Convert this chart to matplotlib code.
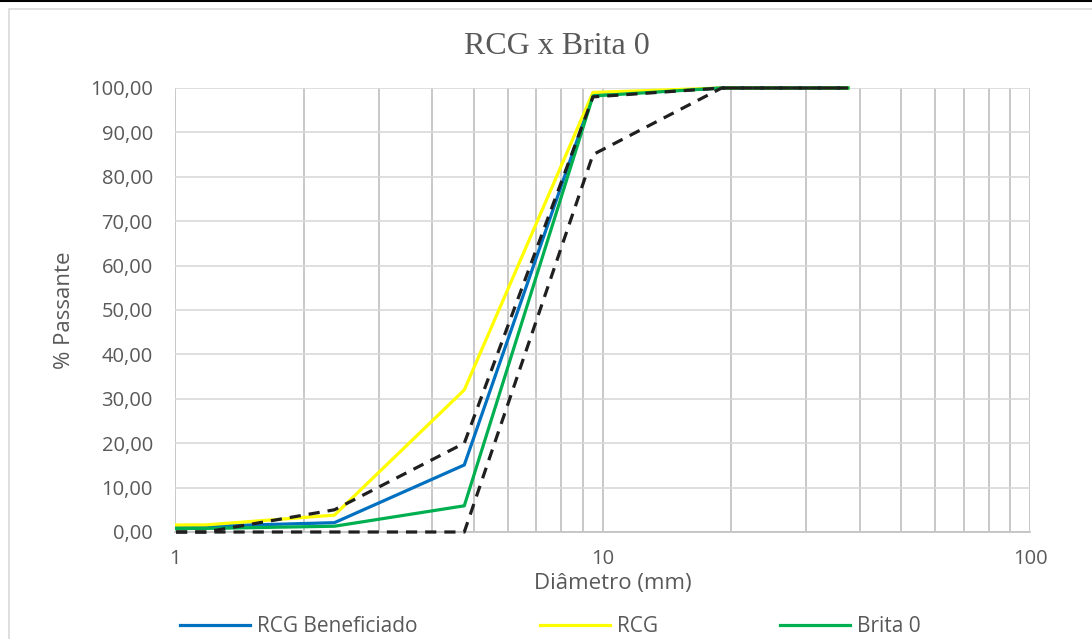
import matplotlib
matplotlib.use("Agg")
import matplotlib.pyplot as plt
from matplotlib.ticker import FuncFormatter, FixedLocator, NullFormatter
from matplotlib.patches import Rectangle
from matplotlib.lines import Line2D

# Sieve openings (mm)
diametro = [0.6, 1.18, 2.36, 4.75, 9.5, 19, 37.5]

# % passing for each material
rcg_beneficiado = [1.1, 1.3, 2.1, 15.1, 98.5, 100, 100]
rcg = [1.5, 1.6, 3.8, 32.0, 99.0, 100, 100]
brita_0 = [0.7, 0.8, 1.3, 5.9, 98.2, 100, 100]

# Grading zone limits (dashed)
limite_superior = [0, 0, 5, 20, 98, 100, 100]
limite_inferior = [0, 0, 0, 0, 85, 100, 100]

y_ticks = [0, 10, 20, 30, 40, 50, 60, 70, 80, 90, 100]
x_major = [1, 10, 100]
x_minor = [2, 3, 4, 5, 6, 7, 8, 9, 20, 30, 40, 50, 60, 70, 80, 90]

gray_text = "#595959"
font = ["Open Sans", "DejaVu Sans"]
W, H = 1092, 639

fig = plt.figure(figsize=(10.92, 6.39), dpi=100)

# chart frame like the spreadsheet
fig.patches.append(Rectangle((9 / W, -0.1), 1.2, 1 - 8.5 / H + 0.1,
                             transform=fig.transFigure, fill=False,
                             edgecolor="#d9d9d9", linewidth=1.2))
fig.lines.append(Line2D([0, 1], [1 - 1 / H, 1 - 1 / H], transform=fig.transFigure,
                        color="black", linewidth=1.5))

ax = fig.add_axes([175 / W, 1 - 532 / H, 855 / W, 444 / H])

# clip only left/right so lines at 0 and 100 are drawn full width
clip = Rectangle((0, -0.05), 1, 1.1, transform=ax.transAxes, visible=False)
ax.add_patch(clip)

dash = (0, (3.5, 2.5))
lines = []
lines += ax.plot(diametro, rcg_beneficiado, color="#0070C0", linewidth=2.3, label="RCG Beneficiado")
lines += ax.plot(diametro, rcg, color="#FFFF00", linewidth=2.3, label="RCG")
lines += ax.plot(diametro, brita_0, color="#00B050", linewidth=2.3, label="Brita 0")
lines += ax.plot(diametro, limite_superior, color="#1f1f1f", linewidth=2.3, linestyle=dash)
lines += ax.plot(diametro, limite_inferior, color="#1f1f1f", linewidth=2.3, linestyle=dash)
for ln in lines:
    ln.set_clip_path(clip)
    ln.set_zorder(3)

ax.set_xscale("log")
ax.set_xlim(1, 100)
ax.set_ylim(0, 100)

ax.xaxis.set_major_locator(FixedLocator(x_major))
ax.xaxis.set_minor_locator(FixedLocator(x_minor))
ax.xaxis.set_minor_formatter(NullFormatter())
ax.xaxis.set_major_formatter(FuncFormatter(lambda v, p: f"{v:g}"))
ax.set_yticks(y_ticks)
ax.yaxis.set_major_formatter(FuncFormatter(lambda v, p: f"{v:.2f}".replace(".", ",")))

ax.grid(True, axis="y", color="#d9d9d9", linewidth=1.2)
ax.grid(True, axis="x", which="both", color="#bfbfbf", linewidth=1.2)
ax.set_axisbelow(True)

for side in ["top", "right", "left"]:
    ax.spines[side].set_visible(False)
ax.spines["bottom"].set_color("#bfbfbf")
ax.spines["bottom"].set_linewidth(1.2)

ax.tick_params(axis="both", which="both", length=0, labelsize=14.5, labelcolor=gray_text)
ax.tick_params(axis="y", pad=16)
ax.tick_params(axis="x", pad=12)
for lab in ax.get_xticklabels() + ax.get_yticklabels():
    lab.set_family(font)

fig.text(557 / W, 1 - 47 / H, "RCG x Brita 0", family=["Liberation Serif", "DejaVu Serif"],
         fontsize=23, color=gray_text, ha="center", va="center")
fig.text(613 / W, 1 - 583 / H, "Diâmetro (mm)", family=font, fontsize=16,
         color=gray_text, ha="center", va="center")
fig.text(64 / W, 1 - 310 / H, "% Passante", family=font, fontsize=16,
         color=gray_text, ha="center", va="center", rotation=90)

leg = ax.legend(loc="center left", bbox_to_anchor=(180 / W, 1 - 627 / H),
                bbox_transform=fig.transFigure, ncol=3, frameon=False,
                prop={"family": font, "size": 15}, handlelength=3.37,
                handletextpad=0.34, columnspacing=5.85, borderpad=0, borderaxespad=0)
for t in leg.get_texts():
    t.set_color(gray_text)

fig.savefig("out.png", dpi=100)
